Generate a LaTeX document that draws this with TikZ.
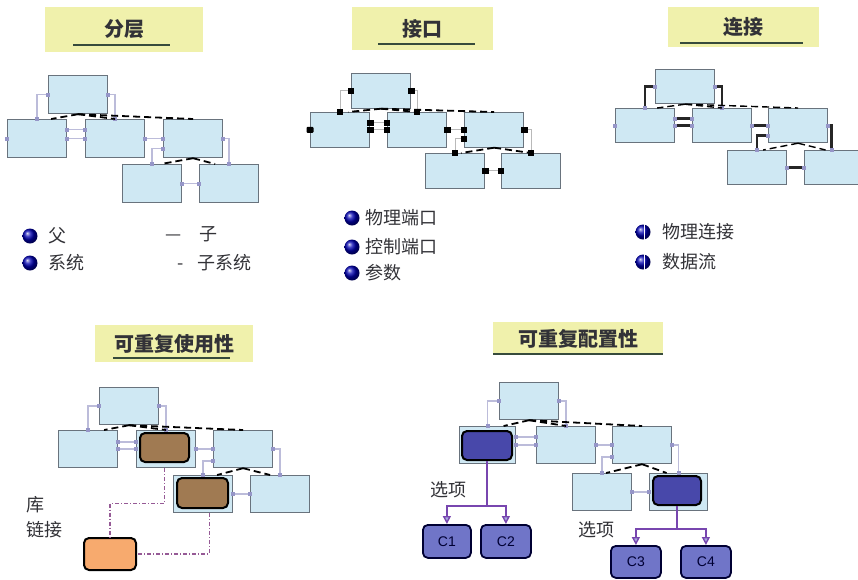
\documentclass[tikz,border=0pt]{standalone}
\usepackage{fontspec}
\newfontfamily\cjk{Noto Sans CJK SC}
\setsansfont{Liberation Sans}
\usetikzlibrary{calc,arrows.meta}
\definecolor{boxblue}{RGB}{207,232,243}
\definecolor{boxedge}{RGB}{105,115,125}
\definecolor{titleyel}{RGB}{240,241,172}
\definecolor{titleline}{RGB}{55,75,60}
\definecolor{linklav}{RGB}{188,188,218}
\definecolor{portlav}{RGB}{150,150,200}
\definecolor{txtgray}{RGB}{50,50,55}
\definecolor{libbrown}{RGB}{160,122,82}
\definecolor{liborange}{RGB}{247,170,110}
\definecolor{cfgdark}{RGB}{72,72,170}
\definecolor{cfgmid}{RGB}{112,117,200}
\definecolor{optpurple}{RGB}{120,70,175}
\definecolor{dashpurple}{RGB}{150,90,150}

\begin{document}
\begin{tikzpicture}[x=1pt,y=-1pt,
 blk/.style={draw=boxedge,fill=boxblue,line width=1.2pt,anchor=north west,minimum width=59pt,minimum height=38pt,inner sep=0pt},
 ttl/.style={fill=titleyel,text=txtgray,font=\cjk\bfseries\fontsize{20}{20}\selectfont,inner sep=0pt},
 uline/.style={draw=titleline,line width=2pt},
 lgd/.style={anchor=west,text=txtgray,font=\cjk\fontsize{18}{18}\selectfont,inner sep=0pt},
 bul/.style={circle,minimum size=15pt,inner sep=0pt,shade,ball color=blue!70!black},
 port/.style={fill=portlav,minimum size=4pt,inner sep=0pt},
 port2/.style={fill=black,minimum width=7pt,minimum height=6pt,inner sep=0pt,rounded corners=1pt},
 link/.style={draw=linklav,line width=1.4pt,arrows={Square[length=4pt,width=4pt,color=portlav]-Square[length=4pt,width=4pt,color=portlav]},shorten <=-2pt,shorten >=-2pt},
 link2/.style={draw=gray!55,line width=0.9pt,arrows={Square[length=6.5pt,width=6.5pt,color=black,fill=black]-Square[length=6.5pt,width=6.5pt,color=black,fill=black]},shorten <=-3.25pt,shorten >=-3.25pt},
 link3/.style={draw=black!85,line width=2.4pt,arrows={Square[length=4pt,width=4pt,color=portlav]-Square[length=4pt,width=4pt,color=portlav]},shorten <=-2pt,shorten >=-2pt},
 flow/.style={draw=black,line width=1.8pt,dash pattern=on 7pt off 4pt},
 inner/.style={draw=black,line width=2pt,rounded corners=5pt,anchor=north west,inner sep=0pt},
 libln/.style={draw=dashpurple,line width=1.1pt,dash pattern=on 4pt off 2pt on 1pt off 2pt},
 opt/.style={draw=optpurple,line width=1.4pt},
 optarr/.style={opt,-{Triangle[length=8pt,width=8pt,fill=cfgmid!60,color=optpurple]}},
 cfg/.style={draw=black!80!blue,line width=1.8pt,fill=cfgmid,rounded corners=5pt,anchor=north west,minimum height=33pt,inner sep=0pt,font=\sffamily\fontsize{14}{14}\selectfont,text=black!80!blue}]
\useasboundingbox (0,0) rectangle (858,579);

\begin{scope} %row-1 col-1
\node[ttl,minimum width=158pt,minimum height=45pt] (t1) at (124,29.5) {分层};
\draw[uline] (73,45) -- (170,45);
\node[blk] (a0) at (48,75) {};
\node[blk] (a1) at (7,119) {};
\node[blk] (a2) at (85,119) {};
\node[blk] (a3) at (163,119) {};
\node[blk] (a4) at (122,164) {};
\node[blk] (a5) at (199,164) {};
\node[port] (a1p) at (a1.west) {};
\draw[link] (a0.west) -| (a1.north);
\draw[link] (a0.east) -| (a2.north);
\draw[link] ([yshift=9pt]a1.east) -- ([yshift=9pt]a2.west);
\draw[link] (a1.east) -- (a2.west);
\draw[link] (a2.east) -- (a3.west);
\draw[link] ([yshift=-10pt]a3.west) -| (a4.north);
\draw[link] (a3.east) -| (a5.north);
\draw[link] (a4.east) -- (a5.west);
\draw[flow] (a0.south) -- ([xshift=14pt]a1.north);
\draw[flow] (a0.south) -- (a2.north);
\draw[flow] (a0.south) -- (a3.north);
\draw[flow] (a3.south) -- ([xshift=9pt]a4.north);
\draw[flow] (a3.south) -- ([xshift=-14pt]a5.north);
\node[bul] (a6) at (30,236) {};
\node[bul] (a7) at (30,263) {};
\node[lgd] (a8) at (48,236) {父};
\node[lgd] (a9) at (48,263) {系统};
\node[lgd] (a10) at (165,234) {—\hspace{18pt}子};
\node[lgd] (a11) at (177,263) {-\hspace{14pt}子系统};
\end{scope}

\begin{scope}[blk/.append style={minimum height=34.5pt}] %row-1 col-2
\node[ttl,minimum width=141pt,minimum height=43pt] (t2) at (422.5,28.5) {接口};
\draw[uline] (378,44) -- (475,44);
\node[blk] (b0) at (351,73) {};
\node[blk] (b1) at (310,112) {};
\node[blk] (b2) at (387,112) {};
\node[blk] (b3) at (464,112) {};
\node[blk] (b4) at (425,153) {};
\node[blk] (b5) at (501,153) {};
\node[port2] (b1p) at (b1.west) {};
\draw[link2] (b0.west) -| (b1.north);
\draw[link2] (b0.east) -| (b2.north);
\draw[link2] ([yshift=7pt]b1.east) -- ([yshift=7pt]b2.west);
\draw[link2] (b1.east) -- (b2.west);
\draw[link2] (b2.east) -- (b3.west);
\draw[link2] ([yshift=-9pt]b3.west) -| (b4.north);
\draw[link2] (b3.east) -| (b5.north);
\draw[link2] (b4.east) -- (b5.west);
\draw[flow] (b0.south) -- ([xshift=8pt]b1.north);
\draw[flow] (b0.south) -- (b2.north);
\draw[flow] (b0.south) -- (b3.north);
\draw[flow] (b3.south) -- ([xshift=6pt]b4.north);
\draw[flow] (b3.south) -- (b5.north);
\node[bul] (b6) at (352,218) {};
\node[bul] (b7) at (352,247) {};
\node[bul] (b8) at (352,273) {};
\node[lgd] (b9) at (365,218) {物理端口};
\node[lgd] (b10) at (365,247) {控制端口};
\node[lgd] (b11) at (365,273) {参数};
\end{scope}

\begin{scope}[blk/.append style={minimum height=34pt}] %row-1 col-3
\node[ttl,minimum width=151pt,minimum height=40pt] (t3) at (743.5,27) {连接};
\draw[uline] (680,43) -- (803,43);
\node[blk] (c0) at (655,69) {};
\node[blk] (c1) at (615,108) {};
\node[blk] (c2) at (692,108) {};
\node[blk] (c3) at (768,108) {};
\node[blk] (c4) at (727,150) {};
\node[blk,minimum width=54pt] (c5) at (804,150) {};
\node[port] (c1p) at (c1.west) {};
\draw[link3] (c0.west) -| (c1.north);
\draw[link3] (c0.east) -| (c2.north);
\draw[link3] ([yshift=7pt]c1.east) -- ([yshift=7pt]c2.west);
\draw[link3] (c1.east) -- (c2.west);
\draw[link3] (c2.east) -- (c3.west);
\draw[link3] ([yshift=-10pt]c3.west) -| (c4.north);
\draw[link3] (c3.east) -| (c5.north);
\draw[link3] (c4.east) -- (c5.west);
\draw[flow,line width=1.4pt] (c0.south) -- ([xshift=12pt]c1.north);
\draw[flow,line width=1.4pt] (c0.south) -- (c2.north);
\draw[flow,line width=1.4pt] (c0.south) -- (c3.north);
\draw[flow,line width=1.4pt] (c3.south) -- ([xshift=6pt]c4.north);
\draw[flow,line width=1.4pt] (c3.south) -- ([xshift=-6pt]c5.north);
\node[bul] (c6) at (643,232) {};
\node[bul] (c7) at (643,262) {};
\draw[white,line width=1pt] ([xshift=1pt]c6.north) -- ([xshift=1pt]c6.south);
\draw[white,line width=1pt] ([xshift=1pt]c7.north) -- ([xshift=1pt]c7.south);
\node[lgd] (c8) at (662,232) {物理连接};
\node[lgd] (c9) at (662,262) {数据流};
\end{scope}

\begin{scope}[blk/.append style={minimum height=37pt}] %row-2 col-1
\node[ttl,minimum width=158pt,minimum height=37pt] (t4) at (174,343.5) {可重复使用性};
\draw[uline] (113,358) -- (230,358);
\node[blk] (d0) at (99,387) {};
\node[blk] (d1) at (58,430) {};
\node[blk] (d2) at (136,430) {};
\node[blk] (d3) at (213,430) {};
\node[blk] (d4) at (173,475) {};
\node[blk] (d5) at (250,475) {};
\node[inner,fill=libbrown,minimum width=49pt,minimum height=29pt] (d6) at (139,432) {};
\node[inner,fill=libbrown,minimum width=51pt,minimum height=30pt] (d7) at (176,477) {};
\node[inner,fill=liborange,minimum width=52pt,minimum height=32pt] (d8) at (83,537) {};
\draw[link] (d0.west) -| (d1.north);
\draw[link] (d0.east) -| (d2.north);
\draw[link] ([yshift=7pt]d1.east) -- ([yshift=7pt]d2.west);
\draw[link] (d1.east) -- (d2.west);
\draw[link] (d2.east) -- (d3.west);
\draw[link] ([yshift=-12pt]d3.west) -| (d4.north);
\draw[link] (d3.east) -| (d5.north);
\draw[link] (d4.east) -- (d5.west);
\draw[flow] (d0.south) -- ([xshift=16pt]d1.north);
\draw[flow] (d0.south) -- (d2.north);
\draw[flow] (d0.south) -- (d3.north);
\draw[flow] (d3.south) -- ([xshift=14pt]d4.north);
\draw[flow] (d3.south) -- ([xshift=-10pt]d5.north);
\draw[libln] (d6.south |- d2.south) -- ++(0,35) -| (d8.north);
\draw[libln] ([xshift=6pt]d4.south) |- (d8.east);
\node[lgd] (d9) at (26,505) {库};
\node[lgd] (d10) at (26,530) {链接};
\end{scope}

\begin{scope}[blk/.append style={minimum height=37pt}] %row-2 col-2
\node[ttl,minimum width=170pt,minimum height=33pt] (t5) at (578,338.5) {可重复配置性};
\draw[uline] (493,354) -- (663,354);
\node[blk] (e0) at (499,382) {};
\node[blk,minimum width=56pt] (e1) at (459,426) {};
\node[blk] (e2) at (536,426) {};
\node[blk] (e3) at (612,426) {};
\node[blk] (e4) at (572,473) {};
\node[blk,minimum width=58pt] (e5) at (649,473) {};
\node[inner,fill=cfgdark,minimum width=50pt,minimum height=29pt] (e6) at (461,430) {};
\node[inner,fill=cfgdark,minimum width=48pt,minimum height=29pt] (e7) at (652,475) {};
\draw[link] (e0.west) -| (e1.north);
\draw[link] (e0.east) -| (e2.north);
\draw[link] ([yshift=8pt]e1.east) -- ([yshift=8pt]e2.west);
\draw[link] (e1.east) -- (e2.west);
\draw[link] (e2.east) -- (e3.west);
\draw[link] ([yshift=-12pt]e3.west) -| (e4.north);
\draw[link] (e3.east) -| (e5.north);
\draw[link] (e4.east) -- (e5.west);
\draw[flow] (e0.south) -- ([xshift=16pt]e1.north);
\draw[flow] (e0.south) -- (e2.north);
\draw[flow] (e0.south) -- (e3.north);
\draw[flow] (e3.south) -- ([xshift=4pt]e4.north);
\draw[flow] (e3.south) -- ([xshift=-12pt]e5.north);
\node[cfg,minimum width=48pt] (e8) at (422,524) {C1};
\node[cfg,minimum width=50pt] (e9) at (480,524) {C2};
\node[cfg,minimum width=50pt,minimum height=32pt] (e10) at (610,545) {C3};
\node[cfg,minimum width=50pt,minimum height=32pt] (e11) at (680,545) {C4};
\draw[opt] (e6.south) -- ++(0,45) coordinate (e12);
\draw[optarr] (e12) -| (e8.north);
\draw[optarr] (e12) -| (e9.north);
\draw[opt] (e7.south) -- ++(0,23) coordinate (e13);
\draw[optarr] (e13) -| (e10.north);
\draw[optarr] (e13) -| (e11.north);
\node[lgd] (e14) at (430,490) {选项};
\node[lgd] (e15) at (578,530) {选项};
\end{scope}

\end{tikzpicture}
\end{document}
